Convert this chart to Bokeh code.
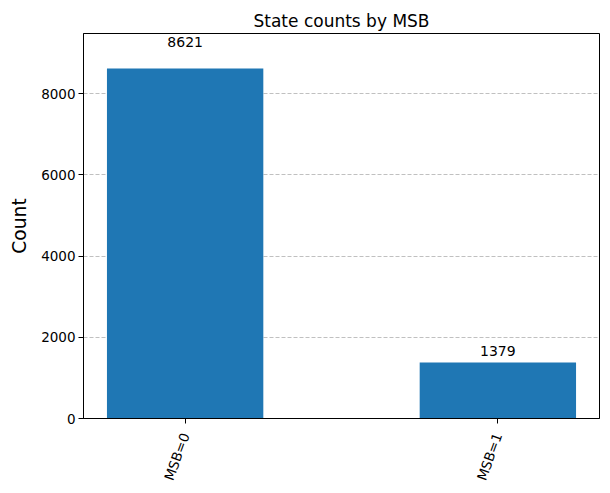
import math
from bokeh.plotting import figure
from bokeh.models import Range1d, FixedTicker, ColumnDataSource, LabelSet
from bokeh.core.properties import value
from bokeh.embed import file_html
from bokeh.resources import INLINE

categories = ["MSB=0", "MSB=1"]
counts = [8621, 1379]
y_ticks = [0, 2000, 4000, 6000, 8000]

FONT = "DejaVu Sans"
xs = list(range(len(categories)))
src = ColumnDataSource(dict(
    x=xs, top=counts,
    ly=[c * 1.05 for c in counts],
    lbl=[str(c) for c in counts],
))

p = figure(frame_width=516, frame_height=385, output_backend="svg",
           toolbar_location=None,
           x_range=Range1d(-0.325, len(categories) - 1 + 0.325),
           y_range=Range1d(0, max(counts) * 1.1),
           title="State counts by MSB",
           min_border_left=83, min_border_right=3, min_border_top=33,
           min_border_bottom=67)

p.vbar(x="x", top="top", width=0.5, source=src, color="#1f77b4", line_color=None)

labels = LabelSet(x="x", y="ly", text="lbl", source=src, text_align="center",
                  text_baseline="bottom", text_font=value(FONT),
                  text_font_size="14px", text_color="black", y_offset=4)
p.add_layout(labels)

p.title.align = "center"
p.title.text_font = FONT
p.title.text_font_size = "17px"
p.title.text_font_style = "normal"
p.title.text_color = "black"
p.title.standoff = 6

p.outline_line_color = "black"
p.outline_line_width = 1

p.xaxis.ticker = FixedTicker(ticks=xs)
p.xaxis.major_label_overrides = {i: c for i, c in enumerate(categories)}
p.xaxis.major_label_orientation = math.radians(70)
p.yaxis.ticker = FixedTicker(ticks=y_ticks)
p.yaxis.axis_label = "Count"

for ax in (p.xaxis, p.yaxis):
    ax.axis_line_color = "black"
    ax.major_tick_line_color = "black"
    ax.major_tick_out = 5
    ax.major_tick_in = 0
    ax.minor_tick_line_color = None
    ax.major_label_text_font = FONT
    ax.major_label_text_font_size = "13.5px"
    ax.major_label_text_color = "black"
    ax.major_label_standoff = 3
p.xaxis.major_label_standoff = 10

p.yaxis.axis_label_text_font = FONT
p.yaxis.axis_label_text_font_size = "18.7px"
p.yaxis.axis_label_text_font_style = "normal"
p.yaxis.axis_label_text_color = "black"
p.yaxis.axis_label_standoff = 8

p.xgrid.grid_line_color = None
p.ygrid.grid_line_color = "#b0b0b0"
p.ygrid.grid_line_dash = "4 2"
p.ygrid.grid_line_width = 0.8

open("out.html", "w").write(file_html(p, INLINE))
